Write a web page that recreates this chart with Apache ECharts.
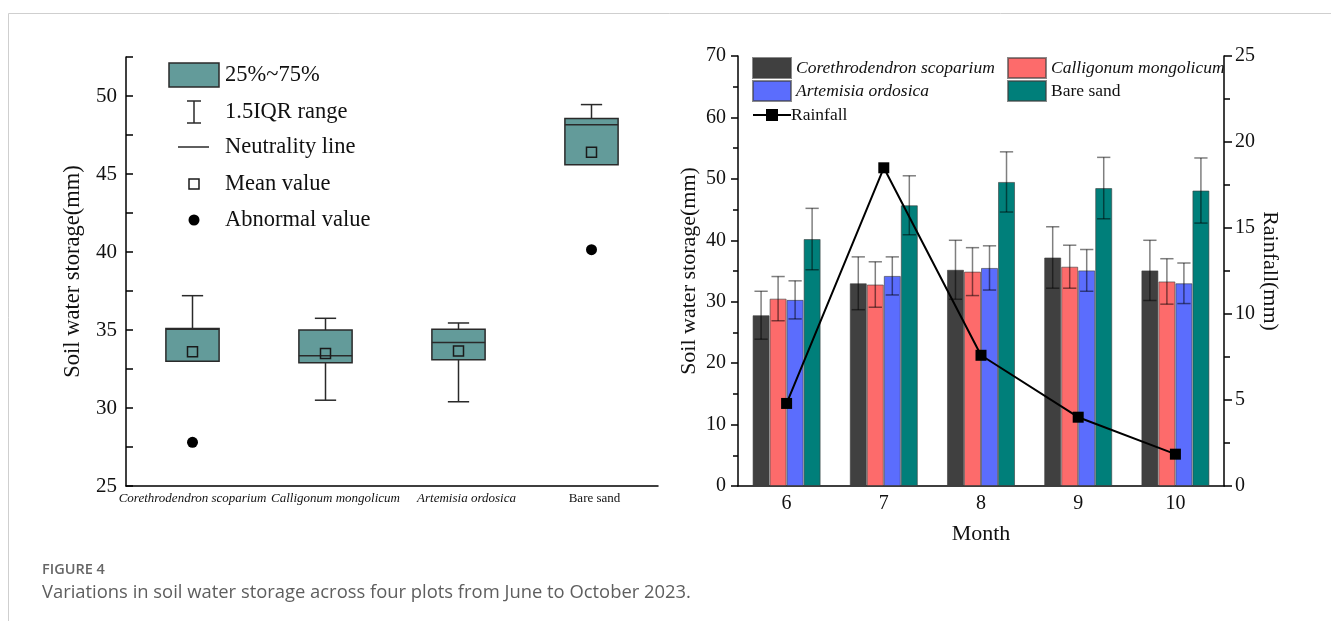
<!DOCTYPE html>
<html>
<head>
<meta charset="utf-8">
<script src="https://cdn.jsdelivr.net/npm/echarts@6/dist/echarts.min.js"></script>
<style>
html,body{margin:0;padding:0;background:#fff;}
#c{width:1331px;height:621px;}
</style>
</head>
<body>
<div id="c"></div>
<script>
// ---- Left panel: box plot data ----
const plots = ['Corethrodendron scoparium', 'Calligonum mongolicum', 'Artemisia ordosica', 'Bare sand'];
const boxMin    = [33.0, 30.5, 30.4, 45.6];
const boxQ1     = [33.0, 32.9, 33.1, 45.6];
const boxMedian = [35.05, 33.35, 34.2, 48.15];
const boxQ3     = [35.1, 35.0, 35.05, 48.55];
const boxMax    = [37.2, 35.75, 35.45, 49.45];
const boxMean   = [33.6, 33.5, 33.65, 46.4];
const outlierPlot  = [0, 3];
const outlierValue = [27.8, 40.15];
const leftTicks = [25, 30, 35, 40, 45, 50];

// ---- Right panel: monthly data ----
const months = ['6', '7', '8', '9', '10'];
const csMean = [27.8, 33.0, 35.2, 37.2, 35.1];
const csErr  = [3.9, 4.3, 4.8, 5.0, 4.9];
const cmMean = [30.5, 32.8, 34.9, 35.7, 33.3];
const cmErr  = [3.6, 3.7, 3.9, 3.5, 3.7];
const aoMean = [30.3, 34.2, 35.5, 35.1, 33.0];
const aoErr  = [3.1, 3.1, 3.6, 3.4, 3.3];
const bsMean = [40.2, 45.7, 49.5, 48.5, 48.1];
const bsErr  = [5.0, 4.8, 4.9, 5.0, 5.3];
const rainfall = [4.8, 18.5, 7.6, 4.0, 1.85];

const SERIF = '"Liberation Serif","Times New Roman",serif';
const BOX_COLOR = '#639b9a';
const barColors = ['#404040', '#fd6b6b', '#5b6dfd', '#007f7a'];
const barNames = ['Corethrodendron scoparium', 'Calligonum mongolicum', 'Artemisia ordosica', 'Bare sand'];
const barMeans = [csMean, cmMean, aoMean, bsMean];
const barErrs = [csErr, cmErr, aoErr, bsErr];
const CAT_GAP = 0.3;

const boxData = plots.map((p, i) => [i, boxMin[i], boxQ1[i], boxMedian[i], boxQ3[i], boxMax[i], boxMean[i]]);
const outlierData = outlierPlot.map((p, i) => [p, outlierValue[i]]);

function renderBox(params, api) {
  const x = api.value(0);
  const pLo = api.coord([x, api.value(1)]);
  const pQ1 = api.coord([x, api.value(2)]);
  const pMed = api.coord([x, api.value(3)]);
  const pQ3 = api.coord([x, api.value(4)]);
  const pHi = api.coord([x, api.value(5)]);
  const pMean = api.coord([x, api.value(6)]);
  const band = api.size([1, 0])[0];
  const bw = band * 0.4;
  const cw = bw * 0.4;
  const cx = pQ1[0];
  const ls = {stroke: '#2a2a2a', lineWidth: 1.5, fill: null};
  const ch = [];
  if (pHi[1] < pQ3[1]) {
    ch.push({type: 'line', shape: {x1: cx, y1: pQ3[1], x2: cx, y2: pHi[1]}, style: ls});
    ch.push({type: 'line', shape: {x1: cx - cw / 2, y1: pHi[1], x2: cx + cw / 2, y2: pHi[1]}, style: ls});
  }
  if (pLo[1] > pQ1[1]) {
    ch.push({type: 'line', shape: {x1: cx, y1: pQ1[1], x2: cx, y2: pLo[1]}, style: ls});
    ch.push({type: 'line', shape: {x1: cx - cw / 2, y1: pLo[1], x2: cx + cw / 2, y2: pLo[1]}, style: ls});
  }
  ch.push({type: 'rect', shape: {x: cx - bw / 2, y: pQ3[1], width: bw, height: pQ1[1] - pQ3[1]},
    style: {fill: BOX_COLOR, stroke: '#2a2a2a', lineWidth: 1.5}});
  ch.push({type: 'line', shape: {x1: cx - bw / 2, y1: pMed[1], x2: cx + bw / 2, y2: pMed[1]}, style: ls});
  ch.push({type: 'rect', shape: {x: cx - 5, y: pMean[1] - 5, width: 10, height: 10}, style: {fill: null, stroke: '#1a1a1a', lineWidth: 1.5}});
  return {type: 'group', children: ch};
}

const errData = [];
barMeans.forEach((arr, s) => arr.forEach((v, m) => errData.push([m, v, barErrs[s][m], s])));

function renderErr(params, api) {
  const m = api.value(0), v = api.value(1), e = api.value(2), s = api.value(3);
  const band = api.size([1, 0])[0];
  const bw = band * (1 - CAT_GAP) / 4;
  const c = api.coord([m, v]);
  const x = c[0] + (s - 1.5) * bw;
  const top = api.coord([m, v + e])[1];
  const bot = api.coord([m, v - e])[1];
  const cw = bw * 0.78;
  const st = {stroke: 'rgba(0,0,0,0.5)', lineWidth: 1.5};
  return {type: 'group', children: [
    {type: 'line', shape: {x1: x, y1: top, x2: x, y2: bot}, style: st},
    {type: 'line', shape: {x1: x - cw / 2, y1: top, x2: x + cw / 2, y2: top}, style: st},
    {type: 'line', shape: {x1: x - cw / 2, y1: bot, x2: x + cw / 2, y2: bot}, style: st}
  ]};
}

const axisLineStyle = {color: '#000', width: 1.5};

const leftLegendText = ['25%~75%', '1.5IQR range', 'Neutrality line', 'Mean value', 'Abnormal value'];
const legendY = [75, 112, 147, 184, 220];

const graphics = [
  {type: 'polyline', shape: {points: [[8.5, 621], [8.5, 13.5], [1331, 13.5]]}, style: {stroke: '#cfcfcf', lineWidth: 1, fill: null}, silent: true},
  {type: 'text', style: {text: 'FIGURE 4', x: 42, y: 570, fill: '#666', font: '600 14.5px "Open Sans", sans-serif', verticalAlign: 'middle'}},
  {type: 'text', style: {text: 'Variations in soil water storage across four plots from June to October 2023.', x: 42, y: 593, fill: '#5e5e5e', font: '18.4px "Open Sans", sans-serif', verticalAlign: 'middle'}},
  {type: 'rect', shape: {x: 169, y: 63, width: 50, height: 24}, style: {fill: BOX_COLOR, stroke: '#2a2a2a', lineWidth: 1.5}},
  {type: 'line', shape: {x1: 194, y1: 101, x2: 194, y2: 123}, style: {stroke: '#2a2a2a', lineWidth: 1.5}},
  {type: 'line', shape: {x1: 187, y1: 101, x2: 201, y2: 101}, style: {stroke: '#2a2a2a', lineWidth: 1.5}},
  {type: 'line', shape: {x1: 187, y1: 123, x2: 201, y2: 123}, style: {stroke: '#2a2a2a', lineWidth: 1.5}},
  {type: 'line', shape: {x1: 178, y1: 147, x2: 209, y2: 147}, style: {stroke: '#2a2a2a', lineWidth: 1.5}},
  {type: 'rect', shape: {x: 189, y: 179, width: 10, height: 10}, style: {fill: null, stroke: '#1a1a1a', lineWidth: 1.5}},
  {type: 'circle', shape: {cx: 194, cy: 220, r: 5.5}, style: {fill: '#000'}}
];
leftLegendText.forEach((t, i) => graphics.push({type: 'text', style: {text: t, x: 225, y: legendY[i], fill: '#111', font: '22.5px ' + SERIF, verticalAlign: 'middle'}}));

const chart = echarts.init(document.getElementById('c'), null, {renderer: 'canvas'});

function legendCfg(name, left, top, italic) {
  const isLine = name === 'Rainfall';
  return {
    data: [name], left: left, top: top, itemWidth: 38, itemHeight: isLine ? 15 : 20, padding: 0,
    icon: isLine ? undefined : 'rect',
    textStyle: {fontFamily: SERIF, fontSize: 17.5, fontStyle: italic ? 'italic' : 'normal', color: '#111',
      padding: isLine ? [0, 0, 0, -5] : 0},
    selectedMode: false
  };
}

// rich styles for the left category labels (small per-label nudges)
const catLabelStyle = ['a', 'b', 'c', 'n'];
const catRich = {
  a: {fontStyle: 'italic', fontFamily: SERIF, fontSize: 13, color: '#111', padding: [0, 0, 0, 0]},
  b: {fontStyle: 'italic', fontFamily: SERIF, fontSize: 13, color: '#111', padding: [0, 0, 0, 20]},
  c: {fontStyle: 'italic', fontFamily: SERIF, fontSize: 13, color: '#111', padding: [0, 0, 0, 16]},
  n: {fontFamily: SERIF, fontSize: 13, color: '#111', padding: [0, 0, 0, 6]}
};

const option = {
  animation: false,
  backgroundColor: '#fff',
  graphic: graphics,
  legend: [
    legendCfg(barNames[0], 752, 57, true),
    legendCfg(barNames[1], 1007, 57, true),
    legendCfg(barNames[2], 752, 80, true),
    legendCfg(barNames[3], 1007, 80, false),
    legendCfg('Rainfall', 752, 106, false)
  ],
  grid: [
    {left: 126, top: 57, width: 532, height: 429, outerBoundsMode: 'none'},
    {left: 738, top: 56, width: 486, height: 430, outerBoundsMode: 'none'}
  ],
  xAxis: [
    {
      gridIndex: 0, type: 'category', data: plots,
      axisLine: {lineStyle: axisLineStyle},
      axisTick: {inside: true, alignWithLabel: true, length: 8, lineStyle: {color: '#000', width: 1.5}},
      axisLabel: {
        margin: 6, fontFamily: SERIF, fontSize: 13, color: '#111', interval: 0,
        formatter: (v, i) => '{' + catLabelStyle[i] + '|' + v + '}',
        rich: catRich
      },
      splitLine: {show: false}
    },
    {
      gridIndex: 1, type: 'category', data: months,
      name: 'Month', nameLocation: 'middle', nameGap: 37,
      nameTextStyle: {fontFamily: SERIF, fontSize: 22, color: '#111'},
      axisLine: {lineStyle: axisLineStyle},
      axisTick: {inside: true, length: 6, lineStyle: {color: '#000', width: 1.5}},
      axisLabel: {margin: 8, fontFamily: SERIF, fontSize: 20, color: '#111'},
      splitLine: {show: false}
    }
  ],
  yAxis: [
    {
      gridIndex: 0, type: 'value', min: 25, max: 52.5, interval: 2.5,
      name: 'Soil water storage(mm)', nameLocation: 'middle', nameGap: 41,
      nameTextStyle: {fontFamily: SERIF, fontSize: 22.5, color: '#111'},
      axisLine: {show: true, lineStyle: axisLineStyle},
      axisTick: {show: true, inside: true, length: 7, lineStyle: {color: '#000', width: 1.5}},
      axisLabel: {margin: 9, fontFamily: SERIF, fontSize: 21, color: '#111',
        formatter: v => leftTicks.indexOf(v) >= 0 ? String(v) : ''},
      splitLine: {show: false}
    },
    {
      gridIndex: 1, type: 'value', min: 0, max: 70, interval: 10,
      name: 'Soil water storage(mm)', nameLocation: 'middle', nameGap: 38,
      nameTextStyle: {fontFamily: SERIF, fontSize: 22, color: '#111'},
      axisLine: {show: true, lineStyle: axisLineStyle},
      axisTick: {show: true, length: 7, lineStyle: {color: '#000', width: 1.5}},
      minorTick: {show: true, splitNumber: 2, length: 5, lineStyle: {color: '#000', width: 1.5}},
      axisLabel: {margin: 12, fontFamily: SERIF, fontSize: 20, color: '#111'},
      splitLine: {show: false}, minorSplitLine: {show: false}
    },
    {
      gridIndex: 1, type: 'value', min: 0, max: 25, interval: 5, position: 'right',
      name: 'Rainfall(mm)', nameLocation: 'middle', nameGap: 35, nameRotate: -90,
      nameTextStyle: {fontFamily: SERIF, fontSize: 22, color: '#111'},
      axisLine: {show: true, lineStyle: axisLineStyle},
      axisTick: {show: true, length: 8, lineStyle: {color: '#000', width: 1.5}},
      minorTick: {show: true, splitNumber: 2, length: 6, lineStyle: {color: '#000', width: 1.5}},
      axisLabel: {margin: 11, fontFamily: SERIF, fontSize: 20, color: '#111'},
      splitLine: {show: false}, minorSplitLine: {show: false}
    }
  ],
  series: [
    {
      type: 'custom', name: 'box', xAxisIndex: 0, yAxisIndex: 0,
      renderItem: renderBox, data: boxData,
      encode: {x: 0, y: [1, 2, 3, 4, 5, 6]}, z: 3
    },
    {
      type: 'scatter', name: 'outlier', xAxisIndex: 0, yAxisIndex: 0,
      data: outlierData, symbol: 'circle', symbolSize: 11,
      itemStyle: {color: '#000', opacity: 1}, z: 4
    },
    ...barNames.map((n, s) => ({
      type: 'bar', name: n, xAxisIndex: 1, yAxisIndex: 1,
      data: barMeans[s], barGap: '0%', barCategoryGap: (CAT_GAP * 100) + '%',
      itemStyle: {color: barColors[s], borderColor: 'rgba(60,60,60,0.6)', borderWidth: 1}, z: 2
    })),
    {
      type: 'custom', name: 'err', xAxisIndex: 1, yAxisIndex: 1,
      renderItem: renderErr, data: errData,
      encode: {x: 0, y: 1}, z: 5
    },
    {
      type: 'line', name: 'Rainfall', xAxisIndex: 1, yAxisIndex: 2,
      data: rainfall, symbol: 'rect', symbolSize: 11,
      lineStyle: {color: '#000', width: 2}, itemStyle: {color: '#000'}, z: 6
    }
  ]
};
chart.setOption(option);
</script>
</body>
</html>
